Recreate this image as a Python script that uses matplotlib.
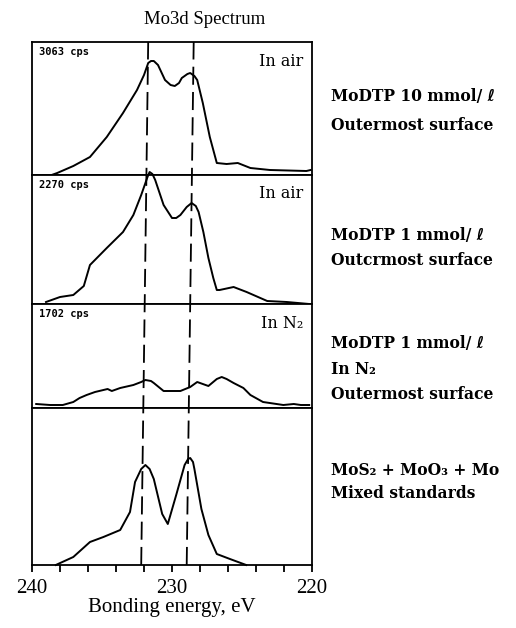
import numpy as np
import matplotlib.pyplot as plt

# binding energy (eV) and intensity (arb. units) for each spectrum, top to bottom
be_air10 = [238.6, 238.2, 237.05, 235.86, 234.66, 233.5, 232.5, 232.0, 231.7, 231.5, 231.3, 231.0,
            230.5, 230.1, 229.8, 229.5, 229.3, 228.9, 228.7, 228.4, 228.2, 227.8, 227.3, 226.8,
            226.1, 225.3, 224.4, 223.0, 220.4, 220.1]
int_air10 = [0, 2, 9, 18, 38, 62, 85, 100, 112, 114, 114, 110,
             95, 90, 89, 92, 97, 101, 102, 99, 95, 72, 38, 12,
             11, 12, 7, 5, 4, 5]

be_air1 = [239.0, 238.0, 237.05, 236.3, 235.86, 234.66, 233.5, 232.76, 232.2, 231.75, 231.6, 231.4,
           231.2, 230.6, 230.0, 229.7, 229.4, 228.95, 228.6, 228.3, 228.1, 227.76, 227.4, 227.05,
           226.8, 226.6, 225.6, 224.67, 223.2, 221.8, 220.2]
int_air1 = [2, 7, 9, 18, 39, 56, 72, 89, 109, 127, 132, 130,
            124, 99, 86, 86, 89, 97, 101, 98, 92, 72, 46, 26,
            14, 14, 17, 12, 3, 2, 0]

be_n2 = [239.7, 238.7, 237.8, 237.05, 236.6, 236.1, 235.5, 234.9, 234.6, 234.3, 233.7, 232.76,
         232.2, 231.9, 231.5, 231.3, 230.6, 230.0, 229.4, 228.7, 228.2, 227.8, 227.4, 226.8,
         226.45, 226.1, 225.6, 224.9, 224.4, 223.5, 222.05, 221.3, 220.8, 220.2]
int_n2 = [4, 3, 3, 6, 10, 13, 16, 18, 19, 17, 20, 23,
          26, 28, 27, 25, 17, 17, 17, 21, 26, 24, 22, 29,
          31, 29, 25, 20, 13, 6, 3, 4, 3, 3]

be_std = [238.3, 237.05, 235.86, 234.9, 233.7, 233.0, 232.64, 232.2, 231.9, 231.6, 231.3, 230.7,
          230.3, 229.7, 229.1, 228.85, 228.7, 228.5, 228.4, 227.9, 227.4, 226.8, 225.86, 224.7]
int_std = [0, 8, 23, 28, 35, 53, 83, 96, 100, 96, 86, 51,
           41, 70, 100, 106, 107, 103, 96, 56, 30, 11, 6, 0]

counts = ['3063 cps', '2270 cps', '1702 cps', None]
atmos = ['In air', 'In air', 'In N\u2082', None]
notes = ['MoDTP 10 mmol/ \u2113\nOutermost surface',
         'MoDTP 1 mmol/ \u2113\nOutcrmost surface',
         'MoDTP 1 mmol/ \u2113\nIn N\u2082\nOutermost surface',
         'MoS\u2082 + MoO\u2083 + Mo\nMixed standards']

# Mo3d 3/2 and 5/2 reference lines (top, bottom ends)
ref_top = [231.7, 228.45]
ref_bottom = [232.2, 228.95]

W, H = 516, 628
fig = plt.figure(figsize=(W / 100, H / 100), dpi=100)

left, right = 32, 312
edges = [42, 175, 304, 408, 565]
ylims = [133, 129, 104, 157]
series = [(be_air10, int_air10), (be_air1, int_air1), (be_n2, int_n2), (be_std, int_std)]
note_y = [111, 248, 369, 482]
note_spacing = [1.85, 1.65, 1.62, 1.48]

serif = ['DejaVu Serif', 'DejaVu Sans']
axes = []
for i, (be, inten) in enumerate(series):
    top, bot = edges[i], edges[i + 1]
    ax = fig.add_axes([left / W, 1 - bot / H, (right - left) / W, (bot - top) / H])
    ax.plot(be, inten, color='black', lw=1.4, clip_on=False, solid_joinstyle='round')
    ax.set_xlim(240, 220)
    ax.set_ylim(0, ylims[i])
    ax.set_yticks([])
    for s in ax.spines.values():
        s.set_linewidth(1.3)
    if i < 3:
        ax.set_xticks([])
        ax.text(0.025, 1 - 10 / (bot - top), counts[i], transform=ax.transAxes,
                family='DejaVu Sans Mono', fontweight='bold', fontsize=7.5,
                ha='left', va='center')
        ax.text(0.97, 1 - 19 / (bot - top), atmos[i], transform=ax.transAxes,
                family=serif, fontsize=11.5, ha='right', va='center')
    fig.text(331 / W, 1 - note_y[i] / H, notes[i], family=serif, fontweight='bold',
             fontsize=11.2, ha='left', va='center', linespacing=note_spacing[i])
    axes.append(ax)

ax = axes[-1]
ticks = np.arange(240, 219, -2)
ax.set_xticks(ticks)
ax.set_xticklabels([str(t) if t % 10 == 0 else '' for t in ticks],
                   family='Liberation Serif', fontsize=15)
ax.tick_params(axis='x', direction='out', length=5, width=1.3, pad=5)
ax.set_xlabel('Bonding energy, eV', family='Liberation Serif', fontsize=15, labelpad=0)

# dashed reference lines spanning all panels
over = fig.add_axes([left / W, 1 - edges[-1] / H, (right - left) / W,
                     (edges[-1] - edges[0]) / H])
over.set_xlim(240, 220)
over.set_ylim(0, 1)
over.axis('off')
for xt, xb in zip(ref_top, ref_bottom):
    over.plot([xb, xt], [0, 1], color='black', lw=1.3, linestyle=(0, (10, 4)))

fig.text(205 / W, 1 - 20 / H, 'Mo3d Spectrum', family='Liberation Serif', fontsize=13.5,
         ha='center', va='center')

fig.savefig('out.png', dpi=100)
